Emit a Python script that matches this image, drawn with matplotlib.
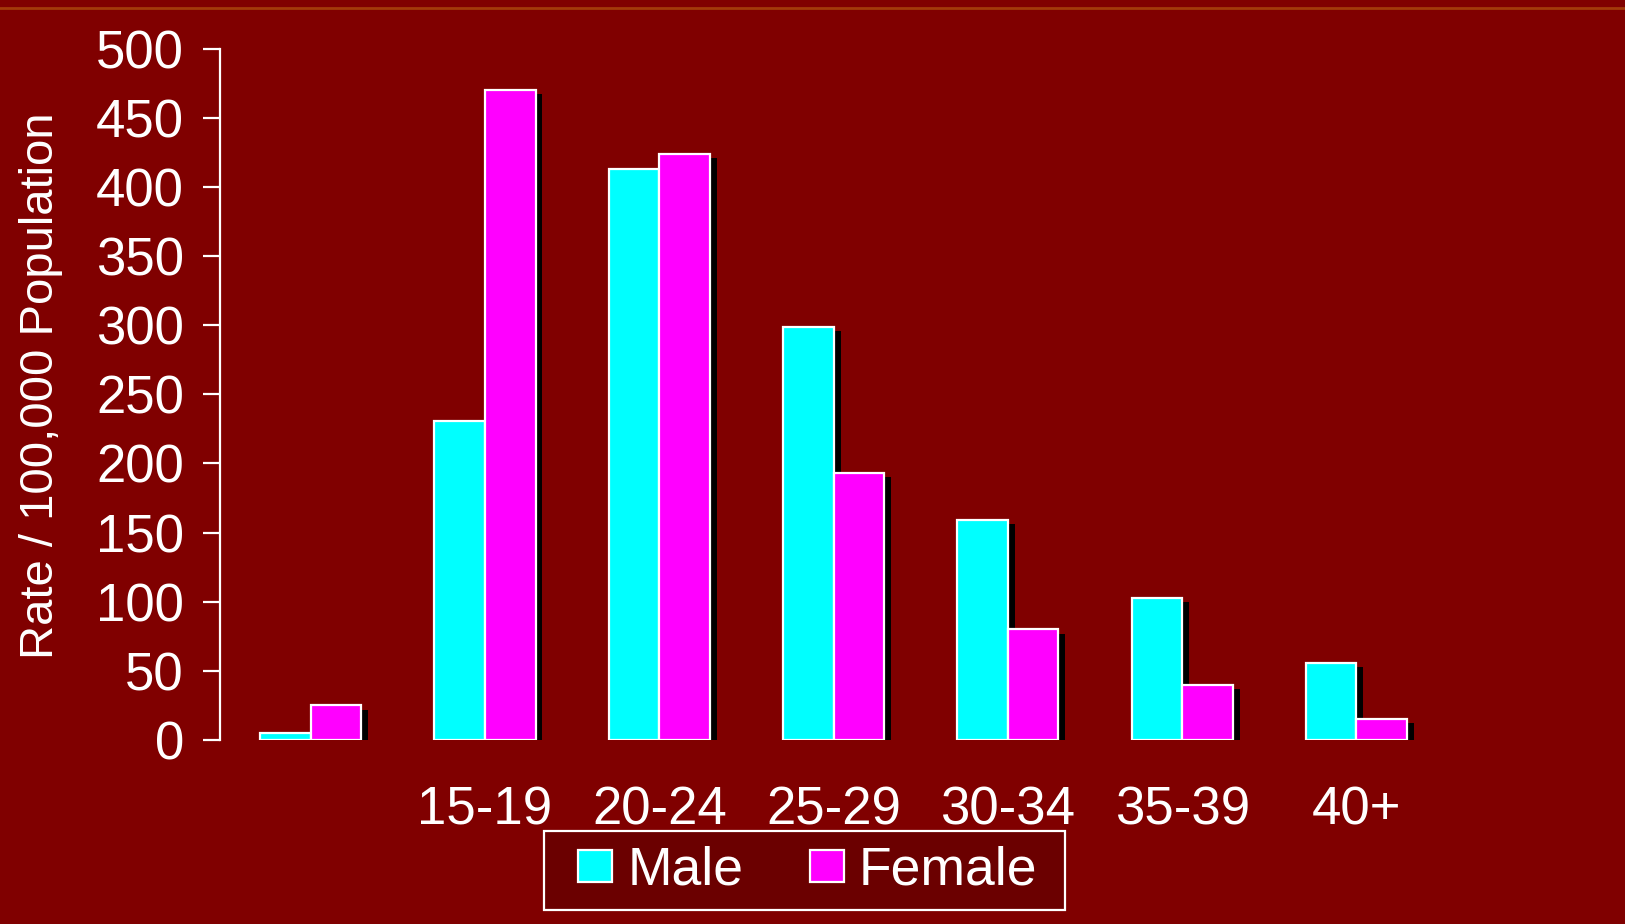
import matplotlib
matplotlib.use("Agg")
import matplotlib.pyplot as plt
import matplotlib.patheffects as pe
from matplotlib.patches import Rectangle
import numpy as np

categories = ["", "15-19", "20-24", "25-29", "30-34", "35-39", "40+"]
male = [5, 231, 413, 299, 159, 103, 56]
female = [25, 470, 424, 193, 80, 40, 15]
yticks = [0, 50, 100, 150, 200, 250, 300, 350, 400, 450, 500]

BG = "#800000"
plt.rcParams["font.family"] = ["Liberation Sans", "DejaVu Sans"]

fig = plt.figure(figsize=(16.25, 9.24), dpi=100, facecolor=BG)
ax = fig.add_axes([0.1354, 0.1991, 0.8884 - 0.1354, 0.9475 - 0.1991])
ax.set_facecolor(BG)

# top decorative line
fig.add_artist(plt.Line2D([0, 1], [1 - 7.5 / 924, 1 - 7.5 / 924], transform=fig.transFigure,
                          color="#a33a0a", lw=2))

x = np.arange(len(categories))
w = 0.29
shadow = [pe.SimplePatchShadow(offset=(5, -3), shadow_rgbFace="black", alpha=1.0), pe.Normal()]
bm = ax.bar(x - w / 2, male, w, color="#00FFFF", edgecolor="white", linewidth=1.6, label="Male")
bf = ax.bar(x + w / 2, female, w, color="#FF00FF", edgecolor="white", linewidth=1.6, label="Female")
for b in list(bm) + list(bf):
    b.set_path_effects(shadow)

ax.set_xlim(-0.52, 6.5)
ax.set_ylim(0, 500)
ax.set_yticks(yticks)
ax.set_xticks(x)
ax.set_xticklabels(categories)

for s in ["top", "right", "bottom"]:
    ax.spines[s].set_visible(False)
ax.spines["left"].set_color("white")
ax.spines["left"].set_linewidth(1.6)

ax.tick_params(axis="y", colors="white", labelsize=38, length=12, width=1.6, pad=14)
ax.tick_params(axis="x", colors="white", labelsize=38, length=0, pad=33)

ax.set_ylabel("Rate / 100,000 Population", color="white", fontsize=34)
ax.yaxis.set_label_coords(-0.128, 0.512)

# legend box
fig.add_artist(Rectangle((544 / 1625, 1 - 910 / 924), 521 / 1625, 79 / 924,
                         transform=fig.transFigure, facecolor="#6b0000",
                         edgecolor="white", linewidth=1.6, zorder=1))
leg = fig.legend(handles=[bm, bf], labels=["Male", "Female"], loc="center",
                 bbox_to_anchor=(0.4972, 0.0575), bbox_transform=fig.transFigure,
                 ncol=2, fontsize=38.5, frameon=False, handlelength=0.635,
                 handleheight=0.55, handletextpad=0.28, columnspacing=1.25, borderpad=0.2)
leg.set_zorder(10)
for t in leg.get_texts():
    t.set_color("white")
for h in leg.legend_handles:
    h.set_path_effects([])

fig.savefig("out.png", dpi=100, facecolor=BG)
